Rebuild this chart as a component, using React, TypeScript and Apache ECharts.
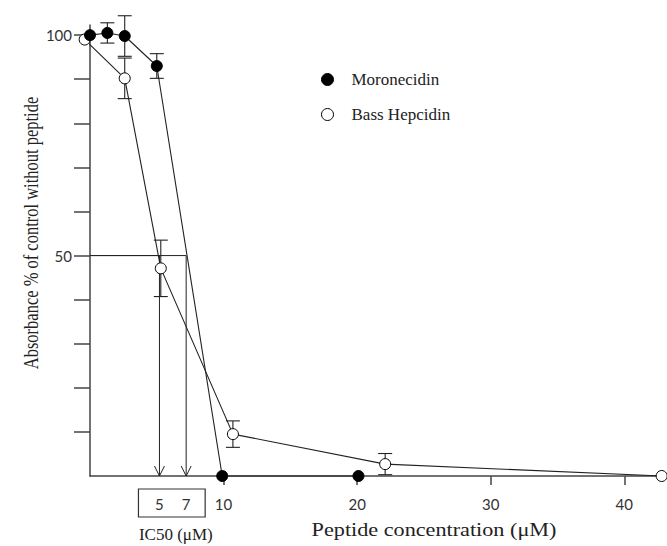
import React, { useEffect, useRef } from "react";
import * as echarts from "echarts";

// Moronecidin (filled circles)
const moroX = [0, 1.3, 2.6, 5.0, 9.9, 20.1];
const moroY = [100, 100.5, 99.8, 93.0, 0, 0];
const moroErr = [0, 2.3, 4.6, 2.8, 0, 0];
// Bass Hepcidin (open circles)
const hepX = [-0.4, 2.6, 5.3, 10.7, 22.1, 42.8];
const hepY = [99, 90.2, 47.1, 9.5, 2.7, 0];
const hepErr = [0, 4.6, 6.4, 3.0, 2.4, 0];
// IC50 values (µM) and the 50 % level
const ic50 = [5.2, 7.2];
const ic50Level = 50;
// ticks
const xTicks = [10, 20, 30, 40];
const yTicks = [10, 20, 30, 40, 50, 60, 70, 80, 90, 100];
const yLabels = [50, 100];

const SERIF = "'Liberation Serif', 'Times New Roman', serif";
const SANS = "Lato, 'Open Sans', sans-serif";
const INK = "#222";

export default function App() {
  const ref = useRef<HTMLDivElement>(null);

  useEffect(() => {
    if (!ref.current) return;
    const chart = echarts.init(ref.current, undefined, { renderer: "svg" });

    const errData = (xs: number[], ys: number[], es: number[]) =>
      xs
        .map((x, i) => [x, ys[i] - es[i], ys[i] + es[i]])
        .filter((_, i) => es[i] > 0);

    const errRender = (params: any, api: any) => {
      const x = api.value(0);
      const lo = api.coord([x, api.value(1)]);
      const hi = api.coord([x, api.value(2)]);
      const w = 7;
      const st = { stroke: INK, lineWidth: 1.1 };
      return {
        type: "group",
        children: [
          { type: "line", shape: { x1: lo[0], y1: lo[1], x2: hi[0], y2: hi[1] }, style: st },
          { type: "line", shape: { x1: lo[0] - w, y1: lo[1], x2: lo[0] + w, y2: lo[1] }, style: st },
          { type: "line", shape: { x1: hi[0] - w, y1: hi[1], x2: hi[0] + w, y2: hi[1] }, style: st },
        ],
      };
    };

    const icRender = (params: any, api: any) => {
      const x = api.value(0);
      const top = api.coord([x, api.value(1)]);
      const bot = api.coord([x, 0]);
      const left = api.coord([0, api.value(1)]);
      const st = { stroke: INK, lineWidth: 1, fill: "none" };
      return {
        type: "group",
        children: [
          { type: "line", shape: { x1: left[0], y1: left[1], x2: top[0], y2: top[1] }, style: st },
          { type: "line", shape: { x1: top[0], y1: top[1], x2: bot[0], y2: bot[1] }, style: st },
          {
            type: "polyline",
            shape: { points: [[bot[0] - 5, bot[1] - 10], [bot[0], bot[1]], [bot[0] + 5, bot[1] - 10]] },
            style: st,
          },
        ],
      };
    };

    const axisLineStyle = { color: "#444", width: 1.5 };

    const option: any = {
      animation: false,
      backgroundColor: "#fff",
      grid: { left: 90, right: 0, top: 25, bottom: 70, containLabel: false },
      legend: {
        orient: "vertical",
        left: 316,
        top: 66,
        itemWidth: 12,
        itemHeight: 12,
        itemGap: 18,
        textStyle: { fontFamily: SERIF, fontSize: 17, color: INK, padding: [0, 0, 6, 13] },
        data: [
          { name: "Moronecidin", icon: "circle", itemStyle: { color: "#000", borderColor: "#000", borderWidth: 1 } },
          { name: "Bass Hepcidin", icon: "circle", itemStyle: { color: "#fff", borderColor: "#000", borderWidth: 1 } },
        ],
      },
      xAxis: {
        type: "value",
        min: 0,
        max: 43.2,
        axisLine: { show: true, onZero: false, lineStyle: axisLineStyle },
        axisTick: { show: true, customValues: xTicks, length: 9, lineStyle: axisLineStyle },
        axisLabel: { customValues: xTicks, margin: 20, fontFamily: SANS, fontSize: 15, color: "#333" },
        splitLine: { show: false },
      },
      yAxis: {
        type: "value",
        min: 0,
        max: 102.3,
        axisLine: { show: true, onZero: false, lineStyle: axisLineStyle },
        axisTick: { show: true, customValues: yTicks, length: 16, lineStyle: axisLineStyle },
        axisLabel: { customValues: yLabels, margin: 18, fontFamily: SANS, fontSize: 15, color: "#333" },
        splitLine: { show: false },
      },
      series: [
        {
          type: "custom",
          name: "IC50",
          renderItem: icRender,
          data: ic50.map((v) => [v, ic50Level]),
          clip: false,
          z: 1,
          silent: true,
        },
        {
          type: "custom",
          name: "errM",
          renderItem: errRender,
          data: errData(moroX, moroY, moroErr),
          clip: false,
          z: 2,
          silent: true,
        },
        {
          type: "custom",
          name: "errH",
          renderItem: errRender,
          data: errData(hepX, hepY, hepErr),
          clip: false,
          z: 2,
          silent: true,
        },
        {
          type: "line",
          name: "Bass Hepcidin",
          data: hepX.map((x, i) => [x, hepY[i]]),
          symbol: "circle",
          symbolSize: 11,
          showAllSymbol: true,
          clip: false,
          z: 3,
          itemStyle: { color: "#fff", borderColor: "#000", borderWidth: 1 },
          lineStyle: { color: INK, width: 1.1 },
        },
        {
          type: "line",
          name: "Moronecidin",
          data: moroX.map((x, i) => [x, moroY[i]]),
          symbol: "circle",
          symbolSize: 11,
          showAllSymbol: true,
          clip: false,
          z: 4,
          itemStyle: { color: "#000", borderColor: "#000", borderWidth: 1 },
          lineStyle: { color: INK, width: 1.1 },
        },
      ],
    };

    chart.setOption(option);

    const p0 = chart.convertToPixel({ gridIndex: 0 }, [ic50[0], 0]) as number[];
    const p1 = chart.convertToPixel({ gridIndex: 0 }, [ic50[1], 0]) as number[];
    const boxL = p0[0] - 21;
    const boxR = p1[0] + 19;
    const axisY = p0[1];

    chart.setOption({
      graphic: [
        {
          type: "rect",
          shape: { x: boxL, y: axisY + 13, width: boxR - boxL, height: 28 },
          style: { fill: "none", stroke: "#333", lineWidth: 1.2 },
        },
        ...ic50.map((v, i) => {
          const p = i === 0 ? p0 : p1;
          return {
            type: "text",
            x: p[0],
            y: axisY + 28,
            style: {
              text: String(Math.round(v)),
              fontFamily: SANS,
              fontSize: 15,
              fill: "#333",
              textAlign: "center",
              textVerticalAlign: "middle",
            },
          };
        }),
        {
          type: "text",
          x: (boxL + boxR) / 2 + 4,
          y: axisY + 58,
          style: {
            text: "IC50 (μM)",
            fontFamily: SERIF,
            fontSize: 17,
            fill: INK,
            textAlign: "center",
            textVerticalAlign: "middle",
          },
        },
        {
          type: "text",
          x: 434,
          y: 530,
          scaleX: 1.2,
          style: {
            text: "Peptide concentration (μM)",
            fontFamily: SERIF,
            fontSize: 18.5,
            fill: INK,
            textAlign: "center",
            textVerticalAlign: "middle",
          },
        },
        {
          type: "text",
          x: 31,
          y: 233,
          rotation: Math.PI / 2,
          scaleY: 1.3,
          style: {
            text: "Absorbance % of control without peptide",
            fontFamily: SERIF,
            fontSize: 16.5,
            fill: INK,
            textAlign: "center",
            textVerticalAlign: "middle",
          },
        },
      ],
    });

    return () => chart.dispose();
  }, []);

  return (
    <div
      ref={ref}
      style={{ position: "fixed", left: 0, top: 0, width: 667, height: 546, background: "#fff" }}
    />
  );
}
